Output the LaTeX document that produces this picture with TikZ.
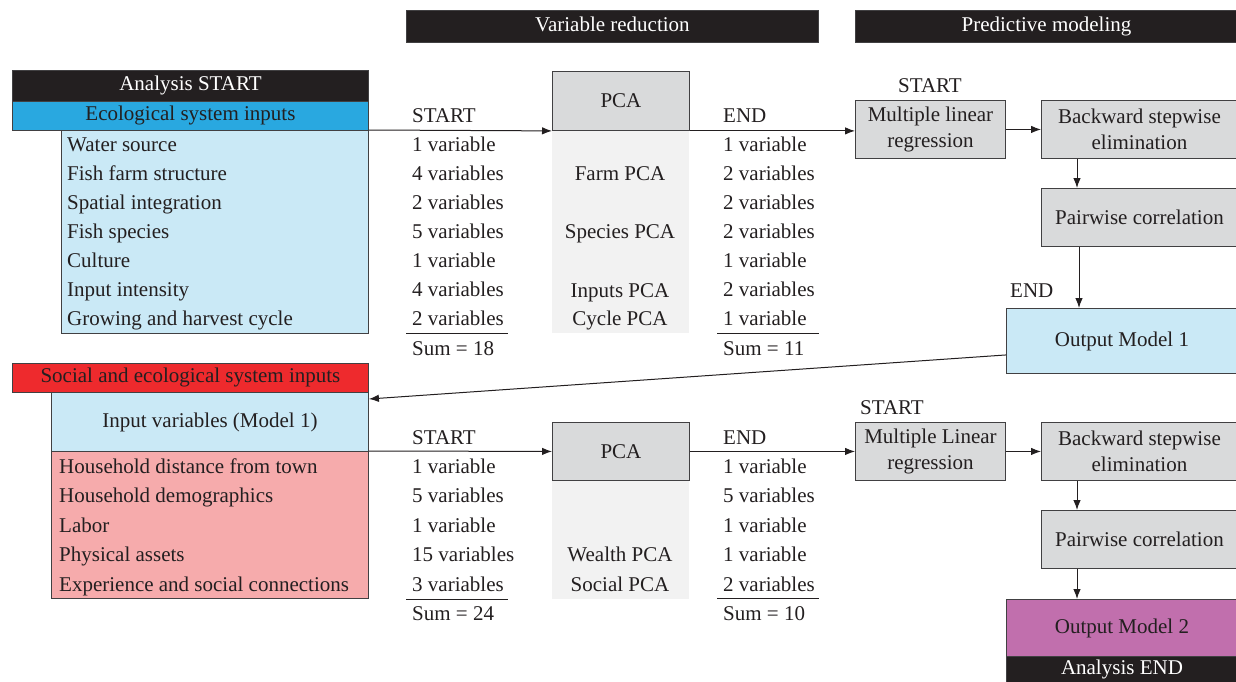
\documentclass[tikz,border=0pt]{standalone}
\usepackage{fontspec}
\setmainfont{Liberation Serif}
\usetikzlibrary{arrows.meta}
\definecolor{blk}{HTML}{231F20}
\definecolor{edge}{HTML}{414042}
\definecolor{ecoblue}{HTML}{29A8E0}
\definecolor{lblue}{HTML}{CAE9F6}
\definecolor{gbox}{HTML}{D9DADB}
\definecolor{lgray}{HTML}{F2F2F2}
\definecolor{sred}{HTML}{EE2A2D}
\definecolor{pink}{HTML}{F6ABAC}
\definecolor{purp}{HTML}{C16FAD}
\begin{document}
\begin{tikzpicture}[x=1pt,y=-1pt,
  font=\fontsize{21}{26}\selectfont, text=blk,
  box/.style={draw=edge, line width=0.9pt, inner sep=0pt, anchor=north west, align=center},
  darkbar/.style={box, fill=blk, text=white, text height=14pt, text depth=4pt},
  bg/.style={inner sep=0pt, anchor=north west, fill=lgray},
  lt/.style={anchor=base west, inner sep=0pt},
  ct/.style={anchor=base, inner sep=0pt},
  arr/.style={draw=blk, line width=1pt, -{Latex[length=10pt,width=7.5pt]}},
  rule/.style={draw=blk, line width=1pt}]
\useasboundingbox (0,0) rectangle (1236,682);
% headers
\node[darkbar, minimum width=412pt, minimum height=32pt] (hvr) at (406,10) {Variable reduction};
\node[darkbar, minimum width=382pt, minimum height=32pt] (hpm) at (855,10) {Predictive modeling};
% left top
\node[darkbar, minimum width=356pt, minimum height=31pt] (astart) at (12,70) {Analysis START};
\node[box, fill=ecoblue, minimum width=356pt, minimum height=29pt] (ecohead) at (12,101) {Ecological system inputs};
\node[box, fill=lblue, minimum width=307pt, minimum height=203pt] (ecobox) at (61,130) {};
\foreach \t [count=\i from 0] in {Water source,Fish farm structure,Spatial integration,Fish species,Culture,Input intensity,Growing and harvest cycle}
  \node[lt] (eco\i) at (67,{151+29.0*\i}) {\t};
% PCA 1
\node[bg, minimum width=137pt, minimum height=203pt] (pca1bg) at (552,130) {};
\node[box, fill=gbox, minimum width=137pt, minimum height=59pt] (pca1) at (552,71) {PCA};
\node[ct] (farm) at (620,180) {Farm PCA};
\node[ct] (species) at (620,238) {Species PCA};
\node[ct] (inputs) at (620,297) {Inputs PCA};
\node[ct] (cycle) at (620,325) {Cycle PCA};
% columns 1
\node[lt] (st1) at (412,122) {START};
\foreach \t [count=\i from 0] in {1 variable,4 variables,2 variables,5 variables,1 variable,4 variables,2 variables}
  \node[lt] (ca\i) at (412,{151+29.0*\i}) {\t};
\draw[rule] (406,333) -- (508,333);
\node[lt] (suma) at (412,355) {Sum = 18};
\node[lt] (en1) at (723,122) {END};
\foreach \t [count=\i from 0] in {1 variable,2 variables,2 variables,2 variables,1 variable,2 variables,1 variable}
  \node[lt] (cb\i) at (723,{151+29.0*\i}) {\t};
\draw[rule] (717,333) -- (819,333);
\node[lt] (sumb) at (723,355) {Sum = 11};
% predictive 1
\node[ct] (pst1) at (930,93) {START};
\node[box, fill=gbox, minimum width=150pt, minimum height=58pt] (mlr1) at (855,100) {Multiple linear\\regression};
\node[box, fill=gbox, minimum width=196pt, minimum height=58pt] (bse1) at (1041,100) {Backward stepwise\\elimination};
\node[box, fill=gbox, minimum width=196pt, minimum height=58pt] (pw1) at (1041,188) {Pairwise correlation};
\node[lt] (pen1) at (1010,297) {END};
\node[box, fill=lblue, minimum width=231pt, minimum height=65pt] (out1) at (1006,308) {Output Model 1};
% left bottom
\node[box, fill=sred, minimum width=356pt, minimum height=29pt] (sochead) at (12,363) {Social and ecological system inputs};
\node[box, fill=lblue, minimum width=317pt, minimum height=59pt] (invar) at (51,392) {Input variables (Model 1)};
\node[box, fill=pink, minimum width=317pt, minimum height=147pt] (socbox) at (51,451) {};
\foreach \t [count=\i from 0] in {Household distance from town,Household demographics,Labor,Physical assets,Experience and social connections}
  \node[lt] (soc\i) at (59,{473+29.5*\i}) {\t};
% PCA 2
\node[bg, minimum width=137pt, minimum height=119pt] (pca2bg) at (552,480) {};
\node[box, fill=gbox, minimum width=137pt, minimum height=58pt] (pca2) at (552,422) {PCA};
\node[ct] (wealth) at (620,561) {Wealth PCA};
\node[ct] (social) at (620,591) {Social PCA};
% columns 2
\node[lt] (st2) at (412,444) {START};
\foreach \t [count=\i from 0] in {1 variable,5 variables,1 variable,15 variables,3 variables}
  \node[lt] (cc\i) at (412,{473+29.5*\i}) {\t};
\draw[rule] (406,599) -- (508,599);
\node[lt] (sumc) at (412,620) {Sum = 24};
\node[lt] (en2) at (723,444) {END};
\foreach \t [count=\i from 0] in {1 variable,5 variables,1 variable,1 variable,2 variables}
  \node[lt] (cd\i) at (723,{473+29.5*\i}) {\t};
\draw[rule] (717,598) -- (819,598);
\node[lt] (sumd) at (723,620) {Sum = 10};
% predictive 2
\node[lt] (pst2) at (860,414) {START};
\node[box, fill=gbox, minimum width=150pt, minimum height=58pt] (mlr2) at (855,422) {Multiple Linear\\regression};
\node[box, fill=gbox, minimum width=196pt, minimum height=58pt] (bse2) at (1041,422) {Backward stepwise\\elimination};
\node[box, fill=gbox, minimum width=196pt, minimum height=58pt] (pw2) at (1041,510) {Pairwise correlation};
\node[box, fill=purp, minimum width=231pt, minimum height=57pt] (out2) at (1006,599) {Output Model 2};
\node[darkbar, minimum width=231pt, minimum height=27pt] (aend) at (1006,656) {Analysis END};
% connectors
\draw[arr] (ecobox.north east) -- (pca1.south west);
\draw[arr] (pca1.south east) -- (pca1.south east -| mlr1.west);
\draw[arr] (mlr1.east) -- (bse1.west);
\draw[arr] ([xshift=36pt]bse1.south west) -- ([xshift=36pt]pw1.north west);
\draw[arr] ([xshift=38pt]pw1.south west) -- ([xshift=73pt]out1.north west);
\draw[arr] ([yshift=-14pt]out1.west) -- ([yshift=-7pt]invar.north east);
\draw[arr] (socbox.north east) -- (pca2.west);
\draw[arr] (pca2.east) -- (mlr2.west);
\draw[arr] (mlr2.east) -- (bse2.west);
\draw[arr] ([xshift=36pt]bse2.south west) -- ([xshift=36pt]pw2.north west);
\draw[arr] ([xshift=36pt]pw2.south west) -- ([xshift=71pt]out2.north west);
\end{tikzpicture}
\end{document}
